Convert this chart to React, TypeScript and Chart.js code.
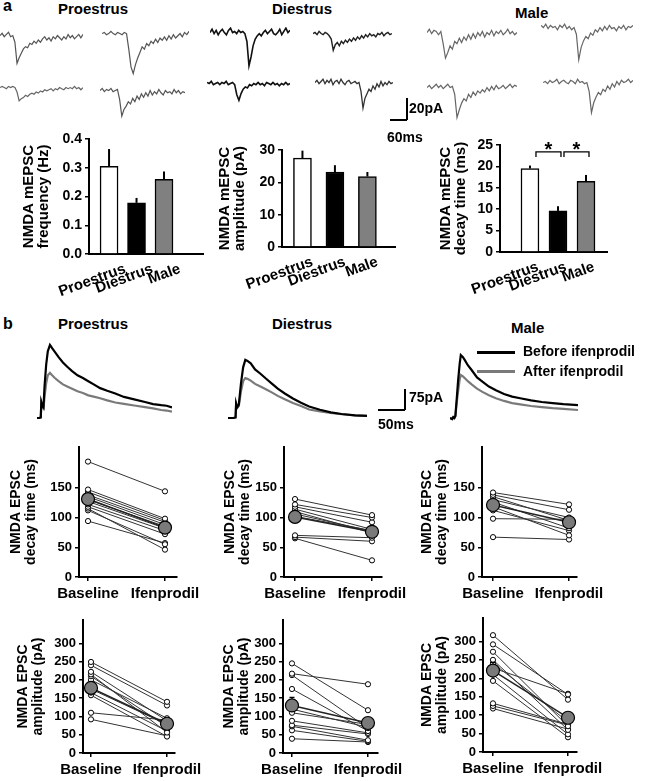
import React, { useEffect, useRef } from "react";
import { Chart, registerables } from "chart.js";

Chart.register(...registerables);

const FONT = "'Liberation Sans', Arial, Helvetica, sans-serif";

// ---------------- Panel a: example mEPSC traces (pA, sample by sample) ----------------
const traceProA1 = [0, 2, -1, 1, 3, -1, 0, -6, -25, -20, -16, -12, -10, -11, -7, -8, -5, -7, -4, -6, -3, -1, -4, -2, -5, -1, -3, 0, -2, -4, -1, -3, 1, -2, 0, -3, -1, 1, -2, 1];
const traceProA2 = [0, 1, -1, 0, 2, 0, -1, 1, 0, -1, 1, 0, -14, -30, -36, -28, -22, -17, -12, -14, -9, -11, -7, -9, -5, -8, -4, -6, -3, -6, -2, -5, -1, -4, -2, 0, -3, 1, -1, 2];
const traceDiA1 = [0, 3, -1, 2, -2, 1, 3, 0, -2, 2, 4, 0, 1, -1, 2, 0, 1, -1, -8, -30, -22, -12, -6, -3, -1, -3, 0, 2, -1, 1, 3, -1, -2, 0, 3, -2, 1, 4, 0, 2];
const traceDiA2 = [0, 1, -1, 2, 0, -1, 1, 0, -2, -5, -15, -10, -8, -11, -7, -9, -6, -8, -5, -7, -4, -6, -3, -5, -2, -4, -1, -3, 0, -2, -1, -3, 0, -1, 1, -2, 0, 1, -1, 0];
const traceMaA1 = [0, 3, -1, 2, 1, -2, 1, -10, -23, -18, -12, -15, -8, -10, -5, -9, -4, -7, -2, -6, -1, -5, 0, -3, 1, -4, 0, -2, 2, -3, 1, -1, 2, -2, 0, 3, -1, 1, -2, 0];
const traceMaA2 = [2, 0, 3, -1, 2, 0, 1, -2, 2, 0, 3, -1, 1, -2, 0, -6, -29, -18, -12, -8, -10, -5, -7, -2, -4, 0, -3, 1, -2, 2, -1, 0, -3, 1, -1, 2, -2, 1, 0, 2];
const traceProB1 = [0, 1, 0, -1, 1, 0, 1, 0, -4, -12, -10, -9, -7, -8, -6, -5, -6, -4, -5, -3, -4, -2, -3, -2, -1, -3, -1, -2, 0, -1, -2, 0, -1, 0, -1, 1, -1, 0, -2, 0];
const traceProB2 = [0, 2, -1, 1, 0, 2, -1, 0, 1, -8, -23, -17, -14, -10, -12, -7, -10, -5, -8, -3, -6, -2, -5, 0, -4, -1, -3, 1, -2, -4, 0, -2, -1, -3, 1, -2, 0, -3, -1, -2];
const traceDiB1 = [1, 0, 2, -1, 0, 1, -1, 1, 0, 2, -1, 0, 1, -1, -10, -15, -9, -5, -3, -4, -1, -2, 0, -1, 1, -1, 0, -2, 1, 0, -1, 1, -1, 0, -2, 0, -1, 1, -1, 0];
const traceDiB2 = [0, 2, -1, 1, 3, -1, 2, 0, 3, -2, 1, 2, -1, 3, 0, -2, 1, 2, -1, 0, 1, -1, 0, -8, -23, -14, -10, -6, -8, -3, -6, -1, -4, 1, -3, 0, -2, 1, -1, 0];
const traceMaB1 = [0, 2, -1, 1, 3, 0, 2, -1, 1, 3, 0, 1, -6, -27, -20, -14, -10, -12, -6, -9, -4, -7, -3, -5, -2, -4, 0, -3, 1, -2, 2, -1, 0, 2, -1, 1, 3, 0, 2, 1];
const traceMaB2 = [0, 1, -1, 2, 0, 1, 3, -1, 1, 2, 0, -1, 2, 1, -1, 3, 0, 1, -1, 0, -8, -27, -18, -13, -9, -11, -6, -8, -3, -6, -1, -4, 1, -2, 2, 0, 1, 3, 0, 2];

// ---------------- Panel a: bar charts ----------------
const groups = ["Proestrus", "Diestrus", "Male"];
const freqMean = [0.305, 0.178, 0.26];
const freqSem = [0.06, 0.017, 0.027];
const mAmpMean = [27.5, 23.2, 21.8];
const mAmpSem = [2.3, 2.1, 1.4];
const mDecayMean = [19.5, 9.6, 16.5];
const mDecaySem = [0.7, 1.1, 1.5];
const barColors = ["#ffffff", "#000000", "#808080"];

// ---------------- Panel b: averaged EPSC traces (ms, pA) ----------------
const epscProT = [0, 4, 7, 8, 10, 12, 14, 17, 20, 24, 28, 33, 40, 48, 56, 65, 75, 85, 95, 105, 117, 130, 145, 161, 180, 200, 215, 230, 240, 250];
const epscProBefore = [0, 0, 2, 60, 45, 40, 120, 200, 250, 274, 262, 248, 228, 208, 192, 176, 160, 150, 138, 126, 112, 102, 92, 79, 70, 60, 52, 48, 46, 40];
const epscProAfter = [0, 0, 2, 55, 40, 35, 80, 130, 160, 169, 160, 150, 138, 126, 118, 110, 100, 94, 85, 80, 74, 66, 58, 53, 47, 41, 36, 30, 28, 24];
const epscDiT = [0, 10, 14, 15, 17, 20, 24, 28, 32, 36, 42, 50, 60, 70, 80, 92, 105, 120, 135, 150, 170, 190, 210, 235, 257];
const epscDiBefore = [0, 0, 2, 55, 40, 50, 130, 190, 218, 214, 205, 182, 166, 148, 131, 110, 92, 73, 57, 43, 31, 21, 15, 10, 8];
const epscDiAfter = [0, 0, 2, 50, 38, 45, 100, 138, 150, 147, 140, 128, 118, 108, 97, 83, 70, 56, 45, 32, 25, 19, 14, 10, 8];
const epscMaT = [0, 4, 6, 8, 10, 12, 15, 18, 20, 24, 28, 33, 40, 50, 60, 72, 85, 100, 115, 130, 150, 170, 190, 210, 237];
const epscMaBefore = [0, -4, 3, 0, 8, 60, 140, 205, 236, 228, 215, 198, 180, 152, 136, 118, 104, 90, 80, 74, 66, 60, 56, 52, 48];
const epscMaAfter = [0, -4, 3, 0, 8, 50, 100, 145, 161, 156, 148, 138, 126, 110, 98, 85, 74, 64, 56, 51, 45, 41, 37, 34, 30];

// ---------------- Panel b: paired values ----------------
const pairLabels = ["Baseline", "Ifenprodil"];
const decayProBase = [194, 147, 143, 138, 135, 130, 127, 122, 118, 115, 112, 94];
const decayProIfen = [144, 98, 95, 92, 88, 85, 82, 78, 72, 46, 55, 57];
const decayProMean = [131, 83];
const decayProSem = [7, 6];
const decayDiBase = [131, 122, 118, 114, 110, 106, 102, 70, 67, 65];
const decayDiIfen = [104, 100, 92, 80, 74, 77, 78, 66, 60, 28];
const decayDiMean = [101, 76];
const decayDiSem = [7, 7];
const decayMaBase = [142, 138, 135, 130, 126, 118, 112, 98, 67];
const decayMaIfen = [122, 113, 95, 100, 82, 70, 78, 97, 63];
const decayMaMean = [121, 92];
const decayMaSem = [8, 6];
const ampProBase = [249, 240, 222, 215, 210, 200, 175, 165, 158, 110, 92];
const ampProIfen = [140, 130, 88, 56, 72, 95, 78, 60, 45, 90, 47];
const ampProMean = [178, 80];
const ampProSem = [17, 10];
const ampDiBase = [245, 217, 213, 175, 120, 110, 88, 76, 73, 62, 39];
const ampDiIfen = [117, 188, 68, 60, 70, 78, 55, 52, 35, 32, 30];
const ampDiMean = [130, 82];
const ampDiSem = [22, 14];
const ampMaBase = [317, 292, 272, 250, 241, 228, 210, 193, 132, 125, 118];
const ampMaIfen = [142, 156, 70, 60, 82, 158, 48, 40, 75, 73, 62];
const ampMaMean = [221, 93];
const ampMaSem = [22, 13];

const bold = (size: number, lineHeight = 1.2) => ({ family: FONT, size, weight: "bold" as const, lineHeight });

const baseOpts = {
  responsive: false,
  animation: false as const,
  events: [] as any[],
};

function traceConfig(values: number[], color: string, width: number) {
  return {
    type: "line",
    data: {
      labels: values.map((_, i) => i),
      datasets: [{ data: values, borderColor: color, borderWidth: width, pointRadius: 0, tension: 0, clip: false }],
    },
    options: {
      ...baseOpts,
      layout: { padding: 0 },
      plugins: { legend: { display: false }, tooltip: { enabled: false } },
      scales: { x: { display: false }, y: { display: false, min: -40, max: 5 } },
    },
  };
}

function epscConfig(t: number[], before: number[], after: number[], tMax: number) {
  return {
    type: "line",
    data: {
      datasets: [
        { data: t.map((tt, i) => ({ x: tt, y: before[i] })), borderColor: "#000", borderWidth: 2.2, pointRadius: 0, clip: false },
        { data: t.map((tt, i) => ({ x: tt, y: after[i] })), borderColor: "#7a7a7a", borderWidth: 2.2, pointRadius: 0, clip: false },
      ],
    },
    options: {
      ...baseOpts,
      layout: { padding: 0 },
      plugins: { legend: { display: false }, tooltip: { enabled: false } },
      scales: { x: { type: "linear", display: false, min: 0, max: tMax }, y: { display: false, min: -15, max: 300 } },
    },
  };
}

function barConfig(p: any) {
  const { means, sems, yMax, step, dec, title, xMin, xMax, yW, padTop, labelOffset, sig, sigLevel } = p;
  const plugin = {
    id: "barExtras",
    afterDatasetsDraw(chart: any) {
      const { ctx } = chart;
      const x = chart.scales.x;
      const y = chart.scales.y;
      ctx.save();
      ctx.strokeStyle = "#000";
      ctx.lineWidth = 2;
      means.forEach((m: number, i: number) => {
        const px = x.getPixelForValue(i + 1);
        ctx.beginPath();
        ctx.moveTo(px, y.getPixelForValue(m));
        ctx.lineTo(px, y.getPixelForValue(m + sems[i]));
        ctx.stroke();
      });
      if (sig) {
        ctx.lineWidth = 1.3;
        sig.forEach(([i, j]: number[]) => {
          const x1 = x.getPixelForValue(i + 1) + 6;
          const x2 = x.getPixelForValue(j + 1) + 3;
          const yt = y.getPixelForValue(sigLevel);
          const yb = y.getPixelForValue(sigLevel - 1.2);
          ctx.beginPath();
          ctx.moveTo(x1, yb);
          ctx.lineTo(x1, yt);
          ctx.lineTo(x2, yt);
          ctx.lineTo(x2, yb);
          ctx.stroke();
          ctx.fillStyle = "#000";
          ctx.font = `bold 20px ${FONT}`;
          ctx.textAlign = "center";
          ctx.textBaseline = "alphabetic";
          ctx.fillText("*", (x1 + x2) / 2, yt + 4);
        });
      }
      ctx.restore();
    },
  };
  return {
    type: "bar",
    data: {
      datasets: [
        {
          data: means.map((m: number, i: number) => ({ x: i + 1, y: m })),
          backgroundColor: barColors,
          borderColor: "#000",
          borderWidth: 1.5,
          barThickness: 18,
        },
      ],
    },
    options: {
      ...baseOpts,
      layout: { padding: { left: 0, top: padTop, right: 6, bottom: 0 } },
      plugins: { legend: { display: false }, tooltip: { enabled: false } },
      scales: {
        x: {
          type: "linear",
          min: xMin,
          max: xMax,
          offset: false,
          afterBuildTicks: (s: any) => {
            s.ticks = groups.map((_, i) => ({ value: i + 1 }));
          },
          afterFit: (s: any) => {
            s.height = 45;
            s.paddingLeft = 0;
            s.paddingRight = 0;
          },
          grid: { display: false, drawTicks: false },
          border: { display: true, color: "#000", width: 2 },
          ticks: {
            callback: (v: number) => groups[v - 1] ?? "",
            minRotation: 20,
            maxRotation: 20,
            autoSkip: false,
            font: bold(15),
            color: "#000",
            padding: 6,
            labelOffset,
          },
        },
        y: {
          min: 0,
          max: yMax,
          afterFit: (s: any) => {
            s.width = yW;
            s.paddingTop = 0;
            s.paddingBottom = 0;
          },
          ticks: { stepSize: step, callback: (v: number) => v.toFixed(dec), font: bold(14), color: "#000", padding: 3 },
          grid: { display: true, drawOnChartArea: false, drawTicks: true, tickLength: 4, color: "#000", lineWidth: 1.5 },
          border: { display: true, color: "#000", width: 2 },
          title: { display: true, text: title, font: bold(15, 1), color: "#000", padding: { top: 1, bottom: 0 } },
        },
      },
    },
    plugins: [plugin],
  };
}

function pairedConfig(p: any) {
  const { base, ifen, mean, sem, yMax, yTickMax, title, xMin, xMax, yW } = p;
  const subjects = base.map((b: number, i: number) => ({
    data: [
      { x: 0, y: b },
      { x: 1, y: ifen[i] },
    ],
    borderColor: "#333",
    borderWidth: 1,
    pointRadius: 2.6,
    pointBackgroundColor: "#fff",
    pointBorderColor: "#000",
    pointBorderWidth: 1,
    order: 1,
    clip: false,
  }));
  const meanSet = {
    data: [
      { x: 0, y: mean[0] },
      { x: 1, y: mean[1] },
    ],
    borderColor: "#222",
    borderWidth: 1.5,
    pointRadius: 6.5,
    pointBackgroundColor: "#7a7a7a",
    pointBorderColor: "#000",
    pointBorderWidth: 1.2,
    order: 0,
    clip: false,
  };
  const plugin = {
    id: "semBars",
    afterDatasetsDraw(chart: any) {
      const { ctx } = chart;
      const x = chart.scales.x;
      const y = chart.scales.y;
      ctx.save();
      ctx.strokeStyle = "#000";
      ctx.lineWidth = 1.2;
      mean.forEach((m: number, i: number) => {
        const px = x.getPixelForValue(i);
        const top = y.getPixelForValue(m + sem[i]);
        const r = 6.5;
        const cy = y.getPixelForValue(m);
        if (cy - top > r) {
          ctx.beginPath();
          ctx.moveTo(px, cy - r);
          ctx.lineTo(px, top);
          ctx.moveTo(px - 2.5, top);
          ctx.lineTo(px + 2.5, top);
          ctx.stroke();
        }
      });
      ctx.restore();
    },
  };
  return {
    type: "line",
    data: { datasets: [...subjects, meanSet] },
    options: {
      ...baseOpts,
      layout: { padding: { left: 0, top: 10, right: 30, bottom: 0 } },
      plugins: { legend: { display: false }, tooltip: { enabled: false } },
      scales: {
        x: {
          type: "linear",
          min: xMin,
          max: xMax,
          offset: false,
          afterBuildTicks: (s: any) => {
            s.ticks = pairLabels.map((_, i) => ({ value: i }));
          },
          afterFit: (s: any) => {
            s.height = 30;
            s.paddingLeft = 0;
            s.paddingRight = 0;
          },
          ticks: {
            callback: (v: number) => pairLabels[v] ?? "",
            font: bold(15),
            color: "#000",
            padding: 4,
            minRotation: 0,
            maxRotation: 0,
            autoSkip: false,
          },
          grid: { display: true, drawOnChartArea: false, drawTicks: true, tickLength: 4, color: "#000", lineWidth: 1.5 },
          border: { display: true, color: "#000", width: 2 },
        },
        y: {
          type: "linear",
          min: 0,
          max: yMax,
          afterBuildTicks: (s: any) => {
            s.ticks = s.ticks.filter((t: any) => t.value <= yTickMax + 0.01);
          },
          afterFit: (s: any) => {
            s.width = yW;
            s.paddingTop = 0;
            s.paddingBottom = 0;
          },
          ticks: { stepSize: 50, font: bold(13), color: "#000", padding: 3 },
          grid: { display: true, drawOnChartArea: false, drawTicks: true, tickLength: 4, color: "#000", lineWidth: 1.5 },
          border: { display: true, color: "#000", width: 2 },
          title: { display: true, text: title, font: bold(14, 1.1), color: "#000", padding: { top: 1, bottom: 0 } },
        },
      },
    },
    plugins: [plugin],
  };
}

function ChartBox({ x, y, w, h, config }: any) {
  const ref = useRef<HTMLCanvasElement>(null);
  useEffect(() => {
    if (!ref.current) return;
    const chart = new Chart(ref.current, config);
    return () => chart.destroy();
  }, []);
  return (
    <canvas
      ref={ref}
      width={w}
      height={h}
      style={{ position: "absolute", left: x, top: y, width: w, height: h, display: "block" }}
    />
  );
}

function Label({ x, capTop, size = 14, children }: any) {
  return (
    <div
      style={{
        position: "absolute",
        left: x,
        top: capTop - 0.13 * size,
        fontFamily: FONT,
        fontWeight: "bold",
        fontSize: size,
        lineHeight: `${size}px`,
        whiteSpace: "nowrap",
        color: "#000",
      }}
    >
      {children}
    </div>
  );
}

function Bar({ x, y, w, h, color = "#000" }: any) {
  return <div style={{ position: "absolute", left: x, top: y, width: w, height: h, background: color }} />;
}

export default function App() {
  const traceBoxes = [
    { x: 0, y: 30, w: 83, v: traceProA1, c: "#555", lw: 1.2 },
    { x: 102, y: 28, w: 87, v: traceProA2, c: "#555", lw: 1.2 },
    { x: 210, y: 27, w: 80, v: traceDiA1, c: "#111", lw: 1.6 },
    { x: 313, y: 28, w: 79, v: traceDiA2, c: "#222", lw: 1.4 },
    { x: 427, y: 27, w: 90, v: traceMaA1, c: "#666", lw: 1.2 },
    { x: 541, y: 22, w: 92, v: traceMaA2, c: "#666", lw: 1.2 },
    { x: 0, y: 82, w: 83, v: traceProB1, c: "#666", lw: 1.2 },
    { x: 100, y: 85, w: 85, v: traceProB2, c: "#555", lw: 1.2 },
    { x: 207, y: 78, w: 83, v: traceDiB1, c: "#111", lw: 1.6 },
    { x: 315, y: 77, w: 78, v: traceDiB2, c: "#333", lw: 1.3 },
    { x: 427, y: 82, w: 90, v: traceMaB1, c: "#666", lw: 1.2 },
    { x: 543, y: 77, w: 90, v: traceMaB2, c: "#666", lw: 1.2 },
  ];

  return (
    <div style={{ position: "absolute", left: 0, top: 0, width: 648, height: 781, background: "#fff", overflow: "hidden" }}>
      {/* Panel a headers */}
      <Label x={3} capTop={0} size={16}>a</Label>
      <Label x={58} capTop={3} size={15}>Proestrus</Label>
      <Label x={272} capTop={3} size={15}>Diestrus</Label>
      <Label x={515} capTop={7} size={15}>Male</Label>

      {traceBoxes.map((t, i) => (
        <ChartBox key={"tr" + i} x={t.x} y={t.y} w={t.w} h={50} config={traceConfig(t.v, t.c, t.lw)} />
      ))}

      {/* scale bar a */}
      <Bar x={406} y={98} w={1.5} h={22} />
      <Bar x={390} y={119} w={17} h={1.5} />
      <Label x={409} capTop={103} size={14}>20pA</Label>
      <Label x={387} capTop={132} size={14}>60ms</Label>

      {/* bar charts */}
      <ChartBox
        x={20}
        y={127}
        w={189}
        h={172}
        config={barConfig({
          means: freqMean, sems: freqSem, yMax: 0.4, step: 0.1, dec: 1,
          title: ["NMDA mEPSC", "frequency (Hz)"], xMin: 0.27, xMax: 4.42, yW: 69, padTop: 12, labelOffset: 16,
        })}
      />
      <ChartBox
        x={216}
        y={138}
        w={185}
        h={154}
        config={barConfig({
          means: mAmpMean, sems: mAmpSem, yMax: 30, step: 5, dec: 0,
          title: ["NMDA mEPSC", "amplitude (pA)"], xMin: 0.37, xMax: 3.85, yW: 66, padTop: 12, labelOffset: 10,
        })}
      />
      <ChartBox
        x={437}
        y={131}
        w={176}
        h={166}
        config={barConfig({
          means: mDecayMean, sems: mDecaySem, yMax: 25, step: 5, dec: 0,
          title: ["NMDA mEPSC", "decay time (ms)"], xMin: -0.07, xMax: 3.75, yW: 63, padTop: 14, labelOffset: 8,
          sig: [[0, 1], [1, 2]], sigLevel: 23.4,
        })}
      />

      {/* Panel b headers */}
      <Label x={3} capTop={318} size={16}>b</Label>
      <Label x={58} capTop={318} size={15}>Proestrus</Label>
      <Label x={272} capTop={318} size={15}>Diestrus</Label>
      <Label x={511} capTop={322} size={15}>Male</Label>

      {/* EPSC traces */}
      <ChartBox x={37} y={338} w={135} h={84} config={epscConfig(epscProT, epscProBefore, epscProAfter, 250)} />
      <ChartBox x={228} y={338} w={139} h={84} config={epscConfig(epscDiT, epscDiBefore, epscDiAfter, 257)} />
      <ChartBox x={450} y={338} w={128} h={84} config={epscConfig(epscMaT, epscMaBefore, epscMaAfter, 237)} />

      {/* legend */}
      <Bar x={477} y={351} w={38} h={3} />
      <Label x={523} capTop={346} size={14}>Before ifenprodil</Label>
      <Bar x={477} y={370} w={38} h={3} color="#7a7a7a" />
      <Label x={523} capTop={366} size={14}>After ifenprodil</Label>

      {/* scale bar b */}
      <Bar x={404} y={389} w={1.5} h={21} />
      <Bar x={378} y={409} w={27} h={1.5} />
      <Label x={409} capTop={392} size={14}>75pA</Label>
      <Label x={378} capTop={419} size={14}>50ms</Label>

      {/* decay paired plots */}
      <ChartBox
        x={7}
        y={437}
        w={200}
        h={170}
        config={pairedConfig({
          base: decayProBase, ifen: decayProIfen, mean: decayProMean, sem: decayProSem,
          yMax: 218.5, yTickMax: 200, title: ["NMDA EPSC", "decay time (ms)"], xMin: -0.117, xMax: 1.156, yW: 72,
        })}
      />
      <ChartBox
        x={221}
        y={437}
        w={191}
        h={170}
        config={pairedConfig({
          base: decayDiBase, ifen: decayDiIfen, mean: decayDiMean, sem: decayDiSem,
          yMax: 218.5, yTickMax: 200, title: ["NMDA EPSC", "decay time (ms)"], xMin: -0.143, xMax: 1.13, yW: 63,
        })}
      />
      <ChartBox
        x={418}
        y={437}
        w={189}
        h={170}
        config={pairedConfig({
          base: decayMaBase, ifen: decayMaIfen, mean: decayMaMean, sem: decayMaSem,
          yMax: 218.5, yTickMax: 200, title: ["NMDA EPSC", "decay time (ms)"], xMin: -0.145, xMax: 1.105, yW: 64,
        })}
      />

      {/* amplitude paired plots */}
      <ChartBox
        x={14}
        y={610}
        w={191}
        h={173}
        config={pairedConfig({
          base: ampProBase, ifen: ampProIfen, mean: ampProMean, sem: ampProSem,
          yMax: 363.7, yTickMax: 350, title: ["NMDA EPSC", "amplitude (pA)"], xMin: -0.105, xMax: 1.105, yW: 69,
        })}
      />
      <ChartBox
        x={220}
        y={610}
        w={188}
        h={173}
        config={pairedConfig({
          base: ampDiBase, ifen: ampDiIfen, mean: ampDiMean, sem: ampDiSem,
          yMax: 363.7, yTickMax: 350, title: ["NMDA EPSC", "amplitude (pA)"], xMin: -0.118, xMax: 1.132, yW: 63,
        })}
      />
      <ChartBox
        x={418}
        y={608}
        w={189}
        h={174}
        config={pairedConfig({
          base: ampMaBase, ifen: ampMaIfen, mean: ampMaMean, sem: ampMaSem,
          yMax: 363.6, yTickMax: 350, title: ["NMDA EPSC", "amplitude (pA)"], xMin: -0.133, xMax: 1.12, yW: 65,
        })}
      />
    </div>
  );
}
